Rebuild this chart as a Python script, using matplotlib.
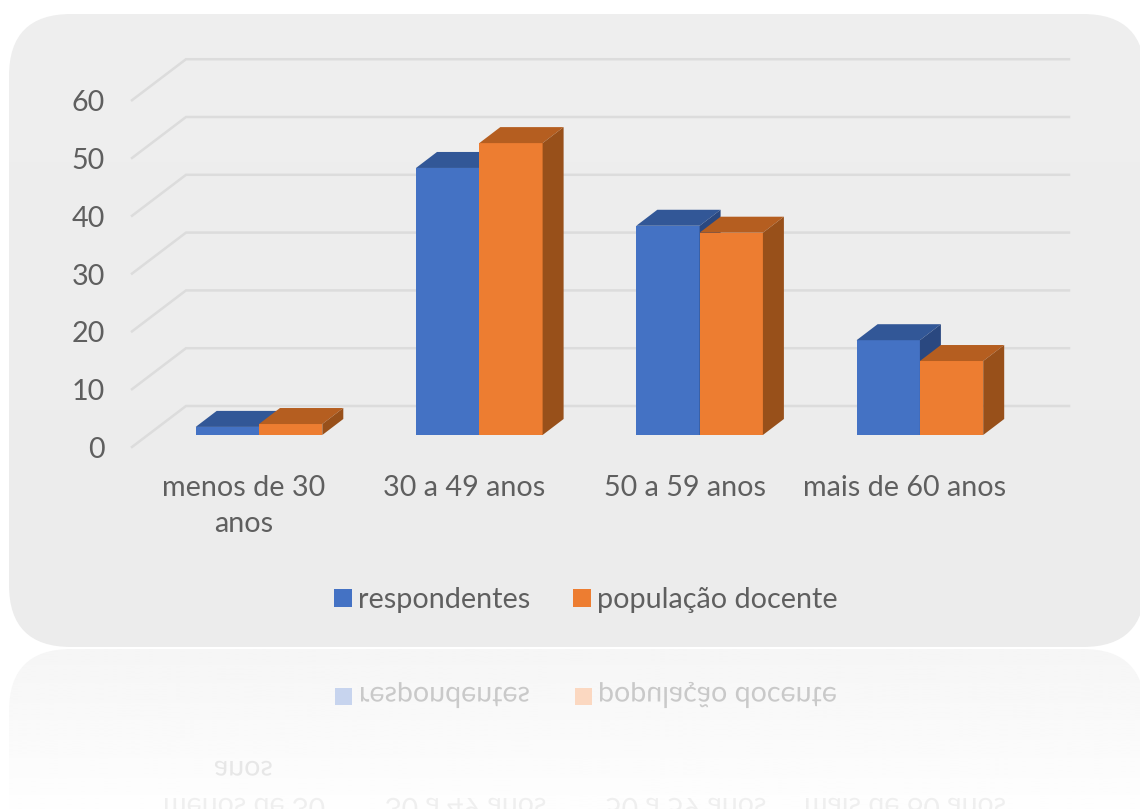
import numpy as np
import matplotlib.pyplot as plt
from matplotlib.font_manager import FontProperties
from matplotlib.patches import FancyBboxPatch, PathPatch, Polygon, Rectangle
from matplotlib.textpath import TextPath

categories = ['menos de 30\nanos', '30 a 49 anos', '50 a 59 anos', 'mais de 60 anos']
respondentes = [1.4, 46.2, 36.2, 16.4]
populacao = [1.9, 50.5, 35.0, 12.8]
y_ticks = [0, 10, 20, 30, 40, 50, 60]
series_names = ['respondentes', 'população docente']

W, H = 1140, 809
PX_X = 220.3   # pixels por categoria
PX_Y = 5.78    # pixels por unidade
X0, Y0 = 259, 435
FONT = 'Lato'
TEXT = '#5f5f5f'
FS = 20.7
BLUE = ('#4472c4', '#325797', '#2a4880')
ORANGE = ('#ed7d31', '#b55e20', '#98501a')
BAR_W = 63.3 / PX_X
DX, DY = 21 / PX_X, 16 / PX_Y
R = 62


def gx(px):
    return (px - X0) / PX_X


def gy(px):
    return (Y0 - px) / PX_Y


def bar3d(ax, left, val, cols):
    ax.bar(left, val, BAR_W, align='edge', color=cols[0], linewidth=0, zorder=3)
    r = left + BAR_W
    ax.add_patch(Polygon([(left, val), (r, val), (r + DX, val + DY), (left + DX, val + DY)],
                         closed=True, fc=cols[1], ec='none', zorder=3))
    ax.add_patch(Polygon([(r, 0), (r + DX, DY), (r + DX, val + DY), (r, val)],
                         closed=True, fc=cols[2], ec='none', zorder=3))


def mirrored(bg, s, x, base, size, alpha):
    # o eixo de fundo tem y invertido, o texto fica espelhado sozinho
    tp = TextPath((x, 2 * 647 - base), s, size=size, prop=FontProperties(family=FONT))
    bg.add_patch(PathPatch(tp, fc=TEXT, ec='none', alpha=alpha, zorder=3))


fig = plt.figure(figsize=(W / 100, H / 100), dpi=100, facecolor='white')

# fundo e reflexo, em pixels
bg = fig.add_axes([0, 0, 1, 1], zorder=0)
bg.set_xlim(0, W)
bg.set_ylim(H, 0)
bg.axis('off')

panel = FancyBboxPatch((9 + R, 14 + R), 1136 - 2 * R, 633 - 2 * R,
                       boxstyle=f'round,pad={R},rounding_size={R}', fc='none', ec='none')
bg.add_patch(panel)
grad = np.linspace(0.932, 0.922, 64).reshape(-1, 1)
im = bg.imshow(grad, extent=(0, W + 20, 647, 14), cmap='gray', vmin=0, vmax=1, aspect='auto', zorder=1)
im.set_clip_path(panel)

refl = FancyBboxPatch((9 + R, 649 + R), 1136 - 2 * R, 400,
                      boxstyle=f'round,pad={R},rounding_size={R}', fc='none', ec='none')
bg.add_patch(refl)
grad2 = np.linspace(0.962, 0.995, 64).reshape(-1, 1)
im2 = bg.imshow(grad2, extent=(0, W + 20, H, 649), cmap='gray', vmin=0, vmax=1, aspect='auto', zorder=1)
im2.set_clip_path(refl)
bg.set_xlim(0, W)
bg.set_ylim(H, 0)

bg.add_patch(Rectangle((335, 688), 17, 17, fc='#c7d4ee', ec='none', zorder=3))
bg.add_patch(Rectangle((575, 688), 17, 17, fc='#fbd8c1', ec='none', zorder=3))
mirrored(bg, series_names[0], 359, 607, 28.6, 0.30)
mirrored(bg, series_names[1], 598, 607, 28.6, 0.30)
mirrored(bg, 'anos', 214, 533, 28.6, 0.13)
for s, x in zip(['menos de 30', '30 a 49 anos', '50 a 59 anos', 'mais de 60 anos'], [163, 385, 605, 804]):
    mirrored(bg, s, x, 496, 28.6, 0.09)

# grafico
ax = fig.add_axes([0, 0, 1, 1], zorder=1)
ax.patch.set_alpha(0)
ax.set_xlim(gx(0), gx(W))
ax.set_ylim(gy(H), gy(0))
ax.axis('off')

x_front, x_back, x_right = gx(132), gx(186), gx(1069)
y_front, y_back = gy(447), gy(406)
for v in y_ticks:
    ax.plot([x_front, x_back, x_right], [y_front + v, y_back + v, y_back + v],
            color='#dcdcdc', lw=1.8, zorder=2, solid_joinstyle='miter')
    ax.text(gx(105), y_front + v + gy(438) - gy(435), str(v), ha='right', va='center',
            fontsize=FS, color=TEXT, family=FONT)

for i in range(len(categories)):
    bar3d(ax, i - BAR_W, respondentes[i], BLUE)
    bar3d(ax, i, populacao[i], ORANGE)
    ax.text(i - 15 / PX_X, gy(475), categories[i], ha='center', va='top',
            fontsize=FS, color=TEXT, family=FONT, linespacing=1.5)

handles = [Rectangle((0, 0), 1, 1, fc=BLUE[0]), Rectangle((0, 0), 1, 1, fc=ORANGE[0])]
ax.legend(handles, series_names, ncol=2, loc='center', bbox_to_anchor=(586 / W, 1 - 600 / H),
          bbox_transform=fig.transFigure, frameon=False, prop={'family': FONT, 'size': FS},
          labelcolor=TEXT, handlelength=0.62, handleheight=0.62, handletextpad=0.2, columnspacing=1.5)

fig.savefig('out.png', dpi=100)
